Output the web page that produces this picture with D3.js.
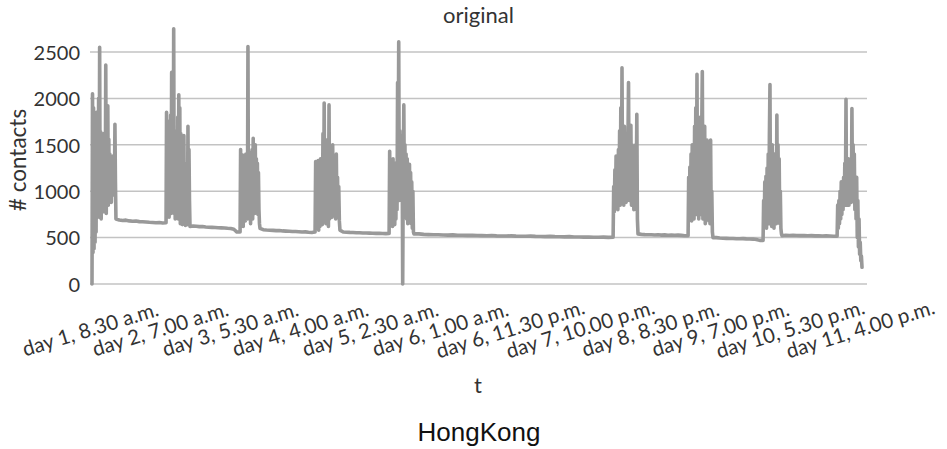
<!DOCTYPE html>
<html>
<head>
<meta charset="utf-8">
<script src="https://cdn.jsdelivr.net/npm/d3@7"></script>
<style>
  html, body { margin: 0; padding: 0; background: #fff; }
  svg { display: block; }
</style>
</head>
<body>
<svg id="chart" width="947" height="449"></svg>
<script>
// ---------------- DATA ----------------
const chartTitle = "original";
const yAxisTitle = "# contacts";
const xAxisTitle = "t";
const caption = "HongKong";

const yTicks = [0, 500, 1000, 1500, 2000, 2500];

// category labels, every 22.5 hours starting at day 1, 8.30 a.m. (t = 0 h)
const tickHours = [0, 22.5, 45, 67.5, 90, 112.5, 135, 157.5, 180, 202.5, 225, 247.5];
const tickLabels = [
  "day 1, 8.30 a.m.", "day 2, 7.00 a.m.", "day 3, 5.30 a.m.", "day 4, 4.00 a.m.",
  "day 5, 2.30 a.m.", "day 6, 1.00 a.m.", "day 6, 11.30 p.m.", "day 7, 10.00 p.m.",
  "day 8, 8.30 p.m.", "day 9, 7.00 p.m.", "day 10, 5.30 p.m.", "day 11, 4.00 p.m."
];

// active periods (hours since start)
const burstStart = [0, 23.8, 47.6, 71.7, 95.5, 167.5, 191.6, 215.7, 239.5];
const burstEnd   = [7.7, 31.5, 54.0, 79.7, 103.5, 175.5, 199.6, 221.8, 247.5];

// contacts during each active period (evenly sampled)
const burst1 = [0, 2050, 340, 1900, 380, 1500, 450, 1580, 560, 1850, 900, 1650, 800, 2000, 720, 2550,
  780, 1640, 700, 1600, 850, 1550, 780, 1620, 900, 1450, 820, 2360, 760, 1900, 900, 1920, 850, 1560,
  900, 1400, 950, 1300, 880, 1350, 980, 1380, 960, 1250, 1050, 1720, 1100, 700];
const burst2 = [660, 1850, 750, 1700, 780, 1750, 720, 1600, 800, 1820, 760, 2280, 900, 1700, 820, 2750,
  760, 1650, 700, 1550, 820, 1450, 760, 1800, 700, 2040, 850, 1900, 650, 1620, 780, 1500, 640, 1350,
  700, 1600, 650, 1250, 630, 1100, 760, 1300, 640, 1700, 700, 1450, 900, 620];
const burst3 = [560, 1450, 650, 1200, 700, 1390, 620, 1300, 750, 1150, 680, 1400, 760, 1250, 700, 2560,
  800, 1350, 700, 1420, 650, 1300, 780, 1450, 700, 1570, 800, 1360, 760, 1500, 820, 1350, 900, 1300,
  750, 1200, 800, 650, 600];
const burst4 = [560, 1320, 600, 1300, 650, 1330, 580, 1250, 620, 1350, 700, 1200, 640, 1620, 700, 1950,
  750, 1400, 650, 1550, 700, 1300, 620, 1930, 700, 1450, 740, 1350, 720, 1500, 750, 1250, 740, 1200,
  700, 1400, 760, 1150, 730, 1050, 680, 580];
const burst5 = [545, 1430, 650, 1200, 700, 1150, 620, 1350, 680, 1100, 640, 1300, 700, 1250, 800, 2170,
  1200, 2610, 900, 1650, 1100, 1600, 900, 1550, 0, 1200, 1930, 850, 1500, 750, 1400, 700, 1350, 650,
  1250, 700, 1290, 680, 1200, 650, 1100, 600, 1000, 560, 540];
const burst6 = [505, 1050, 780, 1230, 850, 1380, 900, 1300, 800, 1450, 950, 1650, 850, 1900, 1000, 2330,
  900, 1500, 850, 1700, 1000, 1450, 880, 1600, 1050, 1500, 2170, 900, 1550, 950, 1710, 850, 1500, 900,
  1450, 800, 1350, 900, 1500, 1000, 1830, 700, 540];
const burst7 = [520, 1150, 700, 1260, 750, 1400, 680, 1500, 800, 1350, 700, 1700, 850, 1900, 750, 2260,
  800, 1600, 700, 1500, 850, 1800, 750, 1650, 2290, 700, 1500, 800, 1700, 650, 1400, 750, 1550, 700,
  1300, 680, 1200, 650, 1550, 700, 1000, 560, 500];
const burst8 = [470, 900, 620, 1100, 650, 1160, 600, 1250, 700, 1400, 650, 1600, 2150, 700, 1350, 620,
  1500, 680, 1250, 600, 1400, 700, 1300, 650, 1820, 700, 1500, 750, 1350, 650, 1000, 600, 540, 520];
const burst9 = [515, 850, 600, 900, 650, 1000, 700, 1100, 750, 1050, 800, 1150, 850, 1300, 900, 1990,
  850, 1200, 900, 1350, 850, 1100, 950, 1250, 880, 1890, 900, 1500, 950, 1400, 800, 1100, 700, 1150,
  500, 900, 400, 700, 320, 450, 250, 300, 180];

// quiet periods between active periods
const quiet1 = [690, 685, 688, 680, 676, 678, 672, 670, 668, 665, 663, 660, 662, 658];
const quiet2 = [625, 622, 618, 620, 615, 612, 610, 608, 606, 605, 603, 600, 598, 590, 560];
const quiet3 = [585, 582, 580, 578, 575, 576, 572, 570, 568, 566, 565, 563, 560, 562, 558, 555];
const quiet4 = [560, 558, 556, 555, 553, 552, 550, 549, 548, 547, 546, 545, 544, 543];
const quiet5 = [540, 535, 532, 530, 531, 528, 527, 529, 526, 525, 524, 526, 522, 521, 520, 522, 519,
  518, 517, 519, 516, 515, 514, 516, 513, 512, 511, 513, 510, 509, 508, 510, 507, 506, 505, 507, 504,
  503, 505, 502];
const quiet6 = [535, 532, 530, 531, 528, 530, 527, 529, 526, 528, 525, 527, 524, 520];
const quiet7 = [500, 495, 493, 492, 490, 491, 488, 487, 489, 486, 485, 484, 480, 470];
const quiet8 = [525, 523, 524, 522, 521, 523, 520, 521, 519, 520, 518, 519, 517, 515];

const bursts = [burst1, burst2, burst3, burst4, burst5, burst6, burst7, burst8, burst9];
const quiets = [quiet1, quiet2, quiet3, quiet4, quiet5, quiet6, quiet7, quiet8];

// ---------------- BUILD SERIES ----------------
const series = [];
bursts.forEach((vals, k) => {
  const t0 = burstStart[k], t1 = burstEnd[k];
  vals.forEach((v, i) => series.push({ t: t0 + (t1 - t0) * i / (vals.length - 1), v }));
  if (k < quiets.length) {
    const q = quiets[k], q0 = burstEnd[k], q1 = burstStart[k + 1];
    q.forEach((v, i) => series.push({ t: q0 + (q1 - q0) * (i + 1) / (q.length + 1), v }));
  }
});

// ---------------- LAYOUT ----------------
const plotLeft = 90, plotRight = 867, plotTop = 52, plotBottom = 284;
const svg = d3.select("#chart");
const fontMain = "Lato, 'Open Sans', sans-serif";
const textColor = "#333";

const x = d3.scaleLinear().domain([0, 247.5]).range([92, 862]);
const y = d3.scaleLinear().domain([0, 2500]).range([plotBottom, plotTop]);

// gridlines
svg.append("g").selectAll("line").data(yTicks).join("line")
  .attr("x1", plotLeft).attr("x2", plotRight)
  .attr("y1", d => y(d)).attr("y2", d => y(d))
  .attr("stroke", "#c3c3c3").attr("stroke-width", 1.5);

// y axis labels
const yAxis = d3.axisLeft(y).tickValues(yTicks).tickSize(0).tickPadding(0).tickFormat(d3.format("d"));
const gy = svg.append("g").attr("transform", `translate(80,0)`).call(yAxis);
gy.select(".domain").remove();
gy.selectAll("text").attr("font-family", fontMain).attr("font-size", 20).attr("fill", textColor)
  .attr("dy", "0.36em");

// line
const line = d3.line().x(d => x(d.t)).y(d => y(d.v));
svg.append("path").datum(series)
  .attr("d", line)
  .attr("fill", "none")
  .attr("stroke", "#999")
  .attr("stroke-width", 3.6)
  .attr("stroke-linejoin", "round")
  .attr("stroke-linecap", "round");

// x tick labels (rotated)
const xAxis = d3.axisBottom(x).tickValues(tickHours).tickSize(0).tickFormat((d, i) => tickLabels[i]);
const gx = svg.append("g").attr("transform", `translate(0,${plotBottom})`).call(xAxis);
gx.select(".domain").remove();
gx.selectAll("text")
  .attr("font-family", fontMain).attr("font-size", 20.5).attr("fill", textColor)
  .attr("text-anchor", "middle")
  .attr("y", 0).attr("dy", 0)
  .attr("transform", "translate(0,52) rotate(-17)");

// titles
svg.append("text").attr("x", (plotLeft + plotRight) / 2).attr("y", 23)
  .attr("text-anchor", "middle").attr("font-family", fontMain).attr("font-size", 22)
  .attr("fill", textColor).text(chartTitle);

svg.append("text").attr("transform", "translate(26,160) rotate(-90)")
  .attr("text-anchor", "middle").attr("font-family", fontMain).attr("font-size", 22.5)
  .attr("fill", textColor).text(yAxisTitle);

svg.append("text").attr("x", 478).attr("y", 393)
  .attr("text-anchor", "middle").attr("font-family", fontMain).attr("font-size", 22)
  .attr("fill", textColor).text(xAxisTitle);

svg.append("text").attr("x", 479).attr("y", 441)
  .attr("text-anchor", "middle").attr("font-family", "'Liberation Sans', 'DejaVu Sans', sans-serif")
  .attr("font-size", 26).attr("fill", "#111").text(caption);
</script>
</body>
</html>
